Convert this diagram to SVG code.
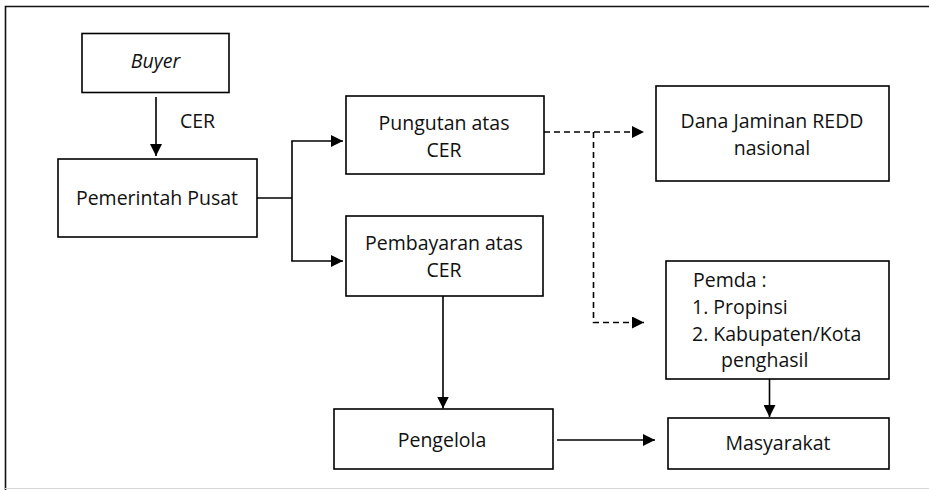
<svg xmlns="http://www.w3.org/2000/svg" width="929" height="490" viewBox="0 0 929 490">
  <style>
    .box { fill: #fff; stroke: #000; stroke-width: 1.6; }
    .lbl { font-family: "Open Sans", Lato, "Liberation Sans", sans-serif; font-size: 19.5px; fill: #111; }
    .mid { text-anchor: middle; }
    .conn { fill: none; stroke: #000; stroke-width: 1.6; }
    .dash { stroke-dasharray: 6 4; }
  </style>
  <defs>
    <marker id="head" viewBox="0 0 12 12" refX="12" refY="6" markerWidth="12" markerHeight="12" markerUnits="userSpaceOnUse" orient="auto">
      <path d="M0,0 L12,6 L0,12 Z" fill="#000"/>
    </marker>
  </defs>

  <rect width="929" height="490" fill="#fff"/>
  <!-- outer frame -->
  <path d="M5.5,490 V6.5 H929" fill="none" stroke="#111" stroke-width="1.6"/>
  <line x1="5" y1="488.5" x2="929" y2="488.5" stroke="#d8d8d8" stroke-width="1"/>

  <g id="buyer">
    <rect class="box" x="82" y="33.5" width="147" height="59"/>
    <text class="lbl mid" x="155.5" y="68" font-style="italic">Buyer</text>
  </g>

  <g id="pemerintah-pusat">
    <rect class="box" x="58" y="159" width="199" height="78"/>
    <text class="lbl mid" x="157" y="205">Pemerintah Pusat</text>
  </g>

  <g id="pungutan">
    <rect class="box" x="346" y="96" width="198" height="78"/>
    <text class="lbl mid" x="444" y="130">Pungutan atas</text>
    <text class="lbl mid" x="444" y="157">CER</text>
  </g>

  <g id="pembayaran">
    <rect class="box" x="346" y="216" width="197" height="80"/>
    <text class="lbl mid" x="444" y="250">Pembayaran atas</text>
    <text class="lbl mid" x="444" y="277">CER</text>
  </g>

  <g id="dana-jaminan">
    <rect class="box" x="656" y="86" width="233" height="95"/>
    <text class="lbl mid" x="772" y="128">Dana Jaminan REDD</text>
    <text class="lbl mid" x="772" y="155">nasional</text>
  </g>

  <g id="pemda">
    <rect class="box" x="666" y="261" width="223" height="118"/>
    <text class="lbl" x="693" y="287">Pemda :</text>
    <text class="lbl" x="692" y="314">1. Propinsi</text>
    <text class="lbl" x="692" y="341">2. Kabupaten/Kota</text>
    <text class="lbl" x="721" y="367">penghasil</text>
  </g>

  <g id="pengelola">
    <rect class="box" x="334" y="409" width="219" height="60"/>
    <text class="lbl mid" x="442" y="447">Pengelola</text>
  </g>

  <g id="masyarakat">
    <rect class="box" x="668" y="418" width="221" height="51"/>
    <text class="lbl mid" x="778" y="450">Masyarakat</text>
  </g>

  <g id="connectors">
    <line class="conn" x1="156" y1="97" x2="156" y2="156" marker-end="url(#head)"/>
    <text class="lbl" x="180" y="128">CER</text>
    <path class="conn" d="M257,198 H292"/>
    <path class="conn" d="M292,141 V261"/>
    <line class="conn" x1="291.2" y1="141" x2="343" y2="141" marker-end="url(#head)"/>
    <line class="conn" x1="291.2" y1="261" x2="343" y2="261" marker-end="url(#head)"/>
    <line class="conn dash" x1="544" y1="132" x2="644" y2="132" marker-end="url(#head)"/>
    <path class="conn dash" d="M593.5,132 V322.5 H644" marker-end="url(#head)"/>
    <line class="conn" x1="443" y1="296" x2="443" y2="408.5" marker-end="url(#head)"/>
    <line class="conn" x1="557" y1="440" x2="655" y2="440" marker-end="url(#head)"/>
    <line class="conn" x1="769.5" y1="379" x2="769.5" y2="417" marker-end="url(#head)"/>
  </g>
</svg>
